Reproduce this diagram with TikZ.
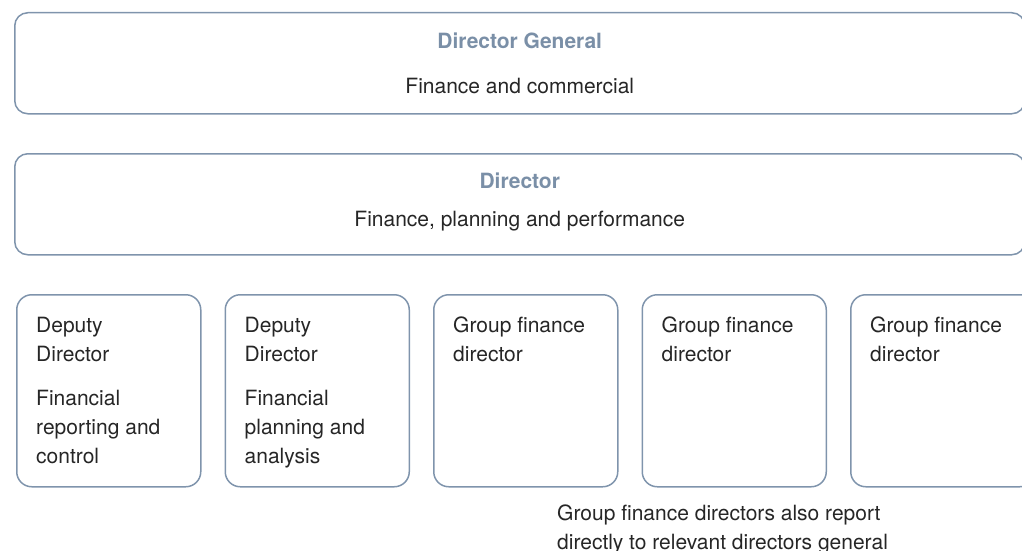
\documentclass[tikz,border=0pt]{standalone}
\usepackage{fontspec}
\setmainfont{TeX Gyre Heros}
\usetikzlibrary{positioning}
\definecolor{boxline}{HTML}{7F94AC}
\definecolor{headblue}{HTML}{7A8FA7}
\definecolor{bodygray}{HTML}{262626}
\begin{document}
\begin{tikzpicture}[x=1pt,y=-1pt,
    wide/.style={draw=boxline,line width=1.5pt,rounded corners=13pt,anchor=north west,inner sep=0pt,minimum width=1010pt,minimum height=101pt},
    unit/.style={draw=boxline,line width=1.5pt,rounded corners=15pt,anchor=north west,inner sep=0pt,minimum width=184pt,minimum height=192pt},
    head/.style={font=\fontsize{21}{29}\selectfont\bfseries,text=headblue,inner sep=0pt},
    body/.style={font=\fontsize{21}{29}\selectfont,text=bodygray,inner sep=0pt,align=left}]
  \useasboundingbox (0,0) rectangle (1022,551);
  \clip (0,0) rectangle (1022,551);
  \node[wide] (dg) at (14,12) {};
  \node[head,below=21pt of dg.north] (dg-head) {Director General};
  \node[body,below=29pt of dg-head] (dg-text) {Finance and commercial};
  \node[wide] (dir) at (14,153) {};
  \node[head,below=20pt of dir.north] (dir-head) {Director};
  \node[body,below=22pt of dir-head] (dir-text) {Finance, planning and performance};
  \foreach \n [count=\i from 0] in {dd1,dd2,gfd1,gfd2,gfd3}
    \node[unit] (\n) at (16+208.5*\i,294) {};
  \node[body,below right=23pt and 20pt of dd1.north west] (dd1-role) {Deputy\\Director};
  \node[body,below=28pt of dd1-role.south west,anchor=north west] (dd1-text) {Financial\\reporting and\\control};
  \node[body,below right=23pt and 20pt of dd2.north west] (dd2-role) {Deputy\\Director};
  \node[body,below=28pt of dd2-role.south west,anchor=north west] (dd2-text) {Financial\\planning and\\analysis};
  \foreach \n in {gfd1,gfd2,gfd3}
    \node[body,below right=23pt and 20pt of \n.north west] (\n-role) {Group finance\\director};
  \node[body,below right=17pt and 124pt of gfd1.south west] (note) {Group finance directors also report\\directly to relevant directors general};
\end{tikzpicture}
\end{document}
